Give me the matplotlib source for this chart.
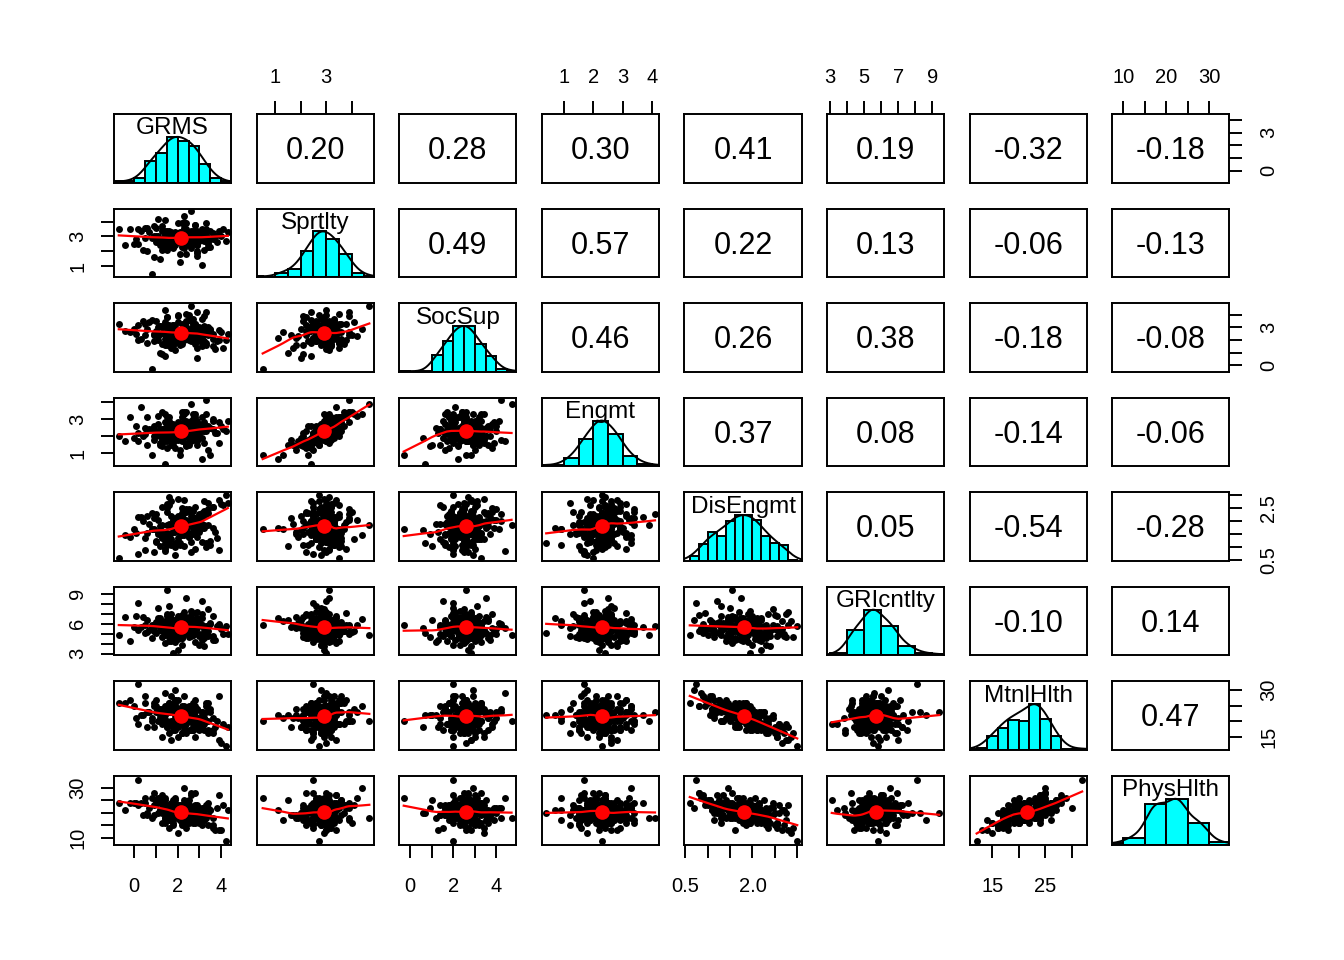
import numpy as np
import matplotlib
matplotlib.use("Agg")
import matplotlib.pyplot as plt

plt.rcParams['font.family'] = ['Liberation Sans', 'DejaVu Sans']

names = ["GRMS", "Sprtlty", "SocSup", "Engmt", "DisEngmt", "GRIcntlty", "MtnlHlth", "PhysHlth"]

# respondent scores (same row order in every list)
grms = [2.7, 1.1, 3.0, 2.4, 1.6, 2.7, 1.3, 1.8, 3.6, 2.0,
        2.2, 1.9, 2.6, 2.4, 1.2, 3.1, 1.5, 3.2, -0.7, 2.1,
        2.4, 2.3, 1.7, 1.5, 3.0, 2.5, 2.6, 4.2, 2.9, 0.9,
        1.8, 2.9, 2.0, 1.9, 1.4, 3.2, 1.6, 2.5, 2.3, 0.8,
        2.5, 2.7, 1.7, 2.4, 2.2, 3.9, 0.2, 2.0, 3.2, 1.5,
        2.4, 1.3, 1.7, 3.1, 2.1, 2.6, 1.4, 2.7, 2.2, 3.3,
        2.3, 1.2, 3.1, 1.9, 2.2, 0.5, 2.0, 3.1, 1.4, 1.9,
        3.4, 1.5, 2.7, 1.6, 2.4, 1.4, 2.8, 2.3, 1.9, 2.6,
        4.0, 2.2, 2.1, 1.3, 2.9, 1.6, 1.8, 2.9, 1.4, 2.4,
        2.2, 2.0, 2.8, 2.0, 1.9, 1.0, 2.3, 2.6, 1.6, 3.0,
        1.2, 3.1, 2.5, 0.4, 2.8, 1.7, 3.6, 2.2, 0.9, 2.6,
        1.9, 3.4, 0.1, 2.3, 1.5, 2.9, 3.8, 1.1, 2.0, 2.7,
        0.6, 3.3, 1.8, 2.4, -0.4, 1.4, 3.0, 2.1, 4.1, 1.6,
        2.5, 0.8, 3.5, 1.3, 2.2, 2.8, 0.3, 1.9, 3.2, 2.6,
        1.0, 2.4, 3.7, 1.7, 0.7, 2.9, 2.0, 3.3, 1.2, 2.3,
        2.7, 1.5, 0.0, 3.1, 2.2, 1.8, 3.9, 2.5, 1.4, 2.0,
        3.4, 0.5, 2.6, 1.6, 2.9, 2.1, 1.0, 3.6, 2.3, 1.3,
        2.8, 1.9, 0.2, 2.4, 3.2, 1.7, 2.5, 4.3, 1.1, 2.7,
        2.0, 3.5, 1.5, 0.9, 2.6, 2.2, 3.0, 1.8, 2.4, -0.2,
        3.1, 1.6, 2.1, 2.9, 0.6, 2.3, 3.4, 1.4, 2.7, 1.9]
sprt = [3.4, 3.0, 2.9, 2.5, 2.6, 3.1, 3.4, 2.3, 2.8, 3.9,
        2.8, 3.2, 2.9, 3.3, 1.5, 3.3, 2.6, 3.2, 3.5, 1.8,
        2.8, 3.2, 2.9, 3.1, 3.0, 3.2, 4.7, 2.7, 2.6, 3.0,
        3.0, 2.4, 2.9, 3.2, 2.8, 2.7, 3.4, 3.3, 3.0, 0.5,
        2.9, 2.9, 3.3, 3.5, 2.3, 3.4, 2.5, 2.7, 3.1, 3.4,
        3.1, 2.1, 2.6, 2.8, 3.0, 2.5, 3.1, 2.9, 3.0, 3.9,
        3.2, 2.8, 3.2, 2.4, 2.5, 2.9, 3.0, 3.1, 2.6, 3.3,
        2.9, 2.1, 3.0, 2.9, 2.7, 4.1, 3.2, 2.7, 3.0, 3.3,
        3.0, 3.3, 2.9, 2.6, 1.7, 3.2, 2.9, 3.4, 2.4, 2.9,
        2.5, 2.8, 3.8, 2.8, 3.2, 3.0, 2.2, 3.1, 3.1, 2.9,
        2.4, 3.5, 3.0, 2.1, 3.8, 2.7, 3.2, 2.9, 1.6, 3.4,
        3.1, 2.5, 2.8, 3.6, 2.2, 3.0, 2.6, 4.2, 2.9, 3.3,
        2.0, 3.1, 2.7, 3.9, 2.4, 3.0, 2.8, 1.3, 3.5, 2.6,
        3.2, 2.9, 2.3, 3.7, 3.0, 2.5, 3.4, 2.8, 2.1, 3.1,
        3.6, 2.7, 3.0, 2.4, 3.3, 1.9, 2.9, 3.5, 2.6, 4.0,
        2.8, 3.2, 2.5, 3.0, 3.9, 2.2, 3.1, 2.7, 3.4, 2.9,
        2.3, 3.6, 2.8, 3.1, 2.0, 3.3, 2.6, 3.0, 4.4, 2.5,
        3.2, 2.7, 3.5, 1.8, 2.9, 3.1, 2.4, 3.3, 2.8, 3.0,
        2.6, 3.4, 2.9, 3.7, 2.2, 3.0, 2.7, 3.2, 2.5, 3.5,
        1.1, 3.1, 2.8, 2.4, 3.6, 3.0, 2.6, 3.3, 2.9, 2.7]
socsup = [2.4, 3.0, 2.4, 2.2, 1.9, 2.9, 3.0, 2.6, 2.5, 3.9,
          2.3, 2.0, 2.6, 2.9, 1.0, 3.7, 2.3, 1.9, 3.3, 1.6,
          3.0, 3.1, 1.7, 2.6, 2.8, 2.0, 4.7, 2.0, 2.1, 2.5,
          2.8, 1.9, 2.5, 2.8, 1.6, 3.1, 3.2, 2.4, 2.7, -0.3,
          2.7, 2.4, 2.9, 4.1, 1.9, 2.8, 2.0, 2.5, 2.7, 3.2,
          3.5, 0.9, 2.3, 2.3, 2.8, 2.0, 3.0, 3.3, 1.7, 4.2,
          2.0, 2.5, 2.9, 1.8, 2.2, 2.4, 4.0, 2.6, 2.1, 3.0,
          2.5, 1.6, 2.6, 2.6, 2.2, 3.4, 2.0, 2.4, 2.7, 3.6,
          2.6, 2.2, 2.6, 3.0, 1.4, 3.0, 2.6, 2.2, 0.7, 2.5,
          2.8, 2.4, 3.3, 2.5, 2.2, 2.7, 2.4, 2.9, 2.1, 2.5,
          3.1, 1.8, 2.6, 3.5, 2.0, 2.9, 1.5, 3.3, 2.4, 2.7,
          1.2, 3.0, 2.5, 2.1, 3.8, 2.8, 1.9, 2.3, 3.4, 2.6,
          2.9, 1.6, 3.2, 2.4, 2.7, 4.4, 2.0, 2.6, 1.4, 3.1,
          2.2, 3.6, 2.8, 1.7, 2.5, 3.3, 2.1, 2.9, 3.9, 1.9,
          2.6, 3.0, 1.3, 2.8, 3.4, 2.3, 2.7, 1.8, 3.1, 2.4,
          3.7, 2.2, 2.9, 1.5, 2.6, 3.2, 2.0, 4.0, 2.5, 1.9,
          2.8, 3.3, 2.3, 2.7, 0.6, 2.4, 3.5, 2.1, 2.9, 3.0,
          1.7, 2.6, 3.2, 2.2, 2.8, 1.4, 3.6, 2.5, 2.0, 3.1,
          2.4, 2.9, 3.8, 1.9, 2.7, 2.3, 3.0, 1.6, 3.4, 2.6,
          2.2, 3.1, 2.5, 4.2, 1.8, 2.8, 2.4, 3.3, 2.0, 2.7]
engmt = [2.6, 2.2, 2.5, 2.0, 1.9, 2.6, 2.4, 1.7, 2.4, 2.8,
         2.3, 1.8, 2.3, 2.7, 1.5, 2.5, 2.0, 2.7, 2.0, 1.2,
         2.2, 2.9, 2.1, 1.7, 2.5, 2.5, 3.9, 2.3, 2.1, 2.0,
         2.4, 1.9, 2.1, 2.6, 2.2, 2.3, 3.1, 2.0, 2.4, 0.9,
         2.2, 2.4, 2.5, 2.9, 1.8, 2.8, 1.7, 2.2, 2.5, 2.6,
         2.5, 1.4, 2.0, 2.3, 2.2, 2.0, 2.3, 2.9, 1.7, 4.1,
         2.5, 2.0, 2.7, 1.3, 2.1, 2.1, 2.3, 2.5, 1.9, 2.4,
         2.5, 2.2, 2.4, 2.1, 1.5, 3.3, 2.6, 2.0, 2.3, 2.6,
         2.6, 1.9, 2.3, 1.8, 1.5, 2.9, 2.3, 2.2, 0.4, 2.1,
         2.0, 2.6, 3.3, 2.2, 2.0, 2.1, 2.3, 2.3, 2.5, 1.9,
         1.6, 3.1, 1.9, 2.0, 3.1, 1.5, 2.9, 2.1, 1.8, 2.4,
         2.5, 1.2, 2.6, 2.8, 1.3, 2.9, 2.2, 3.2, 1.8, 3.0,
         1.5, 3.3, 1.8, 3.4, 1.7, 1.7, 2.6, 0.9, 2.4, 2.6,
         2.5, 2.4, 0.9, 3.4, 2.2, 2.2, 3.7, 1.8, 1.6, 2.9,
         2.3, 2.2, 2.2, 2.6, 2.4, 1.7, 2.2, 2.3, 2.4, 3.4,
         2.0, 3.1, 1.9, 1.9, 3.4, 1.5, 1.6, 2.6, 2.8, 2.1,
         2.6, 2.5, 2.4, 2.4, 1.9, 2.1, 2.0, 3.0, 3.3, 2.2,
         2.4, 2.4, 2.2, 1.4, 2.8, 2.4, 1.5, 2.9, 2.7, 1.8,
         2.2, 2.5, 2.7, 2.6, 1.7, 3.1, 2.0, 2.7, 1.6, 3.1,
         0.7, 1.9, 2.7, 1.8, 3.1, 2.0, 2.5, 2.5, 3.3, 2.1]
disengmt = [1.75, 1.60, 2.20, 1.95, 1.30, 2.40, 1.35, 1.60, 2.55, 2.05,
            2.30, 1.15, 1.95, 1.95, 1.05, 2.15, 1.85, 2.35, 0.60, 1.50,
            1.80, 1.75, 2.20, 1.55, 2.10, 1.40, 1.85, 3.00, 1.70, 0.80,
            1.95, 2.00, 1.25, 2.10, 1.45, 2.75, 1.45, 1.55, 1.85, 1.70,
            1.85, 2.05, 1.10, 1.70, 1.90, 2.80, 0.75, 2.05, 1.85, 1.30,
            1.75, 1.50, 1.55, 2.30, 1.70, 2.20, 0.95, 2.00, 1.95, 2.25,
            1.50, 1.65, 2.15, 1.85, 1.80, 0.90, 2.05, 1.90, 1.30, 1.95,
            2.45, 1.10, 2.15, 1.85, 1.55, 1.30, 2.55, 1.50, 1.70, 1.80,
            2.65, 1.45, 1.65, 1.40, 1.90, 1.80, 2.05, 2.10, 1.15, 1.95,
            2.20, 1.75, 1.95, 1.35, 1.60, 1.20, 2.30, 1.50, 1.90, 2.25,
            1.65, 2.25, 1.40, 2.00, 0.95, 1.85, 2.55, 1.50, 2.10, 1.20,
            1.90, 2.70, 1.55, 1.05, 2.35, 1.75, 1.35, 2.05, 2.85, 1.60,
            2.20, 1.15, 1.80, 2.45, 1.45, 0.85, 2.00, 1.70, 2.60, 1.30,
            1.95, 2.30, 1.10, 1.85, 2.50, 1.55, 2.15, 0.70, 1.75, 2.40,
            1.25, 2.05, 1.60, 2.75, 1.90, 1.40, 2.20, 1.00, 1.80, 2.35,
            1.50, 2.65, 1.70, 1.20, 2.10, 1.85, 0.90, 2.45, 1.55, 2.00,
            2.30, 1.35, 1.95, 2.90, 1.65, 1.10, 2.25, 1.75, 1.45, 2.55,
            1.80, 1.00, 2.15, 1.60, 2.40, 1.30, 1.95, 2.70, 1.50, 1.85,
            2.05, 1.25, 2.50, 1.70, 0.80, 2.20, 1.60, 1.90, 2.35, 1.40,
            1.75, 2.60, 1.15, 2.00, 1.55, 2.80, 1.85, 1.30, 2.10, 1.65]
gri = [6.2, 6.6, 4.8, 6.5, 5.7, 5.3, 6.1, 4.6, 6.8, 5.2,
       3.9, 5.4, 5.8, 6.0, 6.4, 4.4, 6.3, 5.5, 4.9, 5.6,
       5.6, 6.3, 4.3, 9.4, 6.2, 5.7, 4.9, 5.8, 7.2, 5.3,
       3.1, 5.8, 5.1, 6.1, 6.3, 4.7, 6.1, 5.3, 5.0, 5.9,
       6.3, 4.9, 5.5, 6.1, 4.9, 5.9, 8.1, 6.2, 4.6, 6.8,
       8.6, 4.7, 6.5, 5.9, 5.1, 6.6, 5.4, 5.2, 5.2, 5.8,
       6.0, 6.1, 5.9, 5.8, 4.6, 5.1, 5.0, 7.0, 5.4, 6.0,
       7.5, 5.8, 6.4, 4.9, 6.6, 5.3, 5.4, 5.7, 4.5, 6.5,
       5.5, 5.1, 5.3, 5.8, 5.9, 4.3, 5.2, 6.6, 5.1, 5.5,
       4.6, 6.0, 5.9, 5.5, 5.5, 6.1, 5.6, 6.4, 6.3, 5.0,
       5.4, 5.0, 4.7, 6.7, 7.1, 5.0, 4.8, 6.1, 5.7, 6.0,
       4.2, 4.8, 6.8, 5.5, 7.0, 6.1, 5.8, 5.9, 6.3, 5.3,
       6.4, 5.1, 4.5, 5.9, 6.7, 5.6, 3.9, 6.3, 5.0, 7.8,
       5.5, 4.6, 6.0, 5.3, 6.9, 4.2, 5.7, 6.4, 5.1, 4.8,
       6.2, 5.8, 4.4, 7.0, 5.4, 6.1, 3.4, 5.6, 6.6, 5.2,
       4.9, 6.3, 5.7, 8.3, 5.0, 4.6, 6.0, 5.5, 4.1, 6.8,
       5.3, 5.9, 7.3, 4.7, 5.6, 6.2, 5.1, 4.4, 6.5, 5.8,
       6.0, 4.9, 5.4, 6.7, 3.8, 5.7, 6.3, 5.0, 7.6, 5.2,
       4.5, 6.1, 5.6, 5.3, 6.9, 4.8, 5.9, 6.4, 5.1, 4.3,
       6.6, 5.5, 4.7, 6.0, 5.2, 7.2, 5.8, 4.9, 6.2, 5.4]
mtnl = [22, 23, 18, 19, 26, 17, 24, 23, 16, 20,
        16, 27, 23, 21, 22, 23, 20, 17, 26, 24,
        21, 21, 23, 23, 19, 25, 20, 12, 18, 25,
        19, 21, 27, 17, 24, 19, 23, 24, 22, 20,
        20, 19, 28, 23, 19, 14, 32, 18, 21, 25,
        22, 22, 24, 18, 21, 17, 25, 20, 19, 23,
        24, 21, 20, 26, 22, 28, 23, 21, 20, 25,
        17, 24, 18, 25, 23, 24, 15, 23, 21, 21,
        13, 24, 22, 23, 21, 26, 18, 19, 22, 24,
        22, 22, 20, 20, 24, 25, 17, 23, 25, 18,
        23, 19, 24, 22, 27, 20, 17, 25, 18, 24,
        22, 16, 21, 28, 19, 24, 20, 23, 15, 26,
        18, 25, 20, 22, 26, 29, 17, 21, 19, 23,
        24, 21, 23, 19, 16, 25, 22, 30, 20, 17,
        27, 22, 18, 14, 23, 21, 19, 26, 24, 20,
        22, 18, 25, 23, 20, 17, 28, 21, 24, 19,
        20, 26, 22, 16, 18, 24, 23, 21, 25, 15,
        23, 27, 19, 22, 21, 25, 17, 18, 20, 24,
        21, 24, 18, 26, 25, 22, 19, 23, 16, 27,
        22, 19, 21, 24, 23, 18, 26, 20, 17, 25]
phys = [22, 20, 17, 18, 23, 16, 27, 21, 15, 22,
        20, 23, 18, 19, 25, 18, 22, 17, 24, 19,
        19, 24, 21, 20, 16, 22, 18, 9, 20, 28,
        25, 17, 21, 19, 22, 20, 21, 23, 18, 26,
        23, 18, 24, 22, 17, 13, 33, 20, 19, 21,
        17, 22, 20, 15, 23, 21, 25, 19, 21, 18,
        21, 21, 19, 23, 20, 26, 20, 22, 18, 21,
        19, 23, 17, 20, 22, 23, 16, 18, 20, 21,
        13, 22, 20, 24, 19, 17, 21, 23, 20, 16,
        18, 20, 22, 19, 23, 24, 19, 20, 21, 17,
        21, 17, 25, 19, 23, 22, 14, 20, 19, 27,
        18, 15, 24, 25, 21, 19, 22, 26, 12, 20,
        20, 22, 16, 24, 21, 26, 19, 17, 23, 20,
        23, 18, 21, 20, 15, 28, 24, 22, 17, 19,
        25, 20, 13, 17, 22, 18, 21, 23, 26, 16,
        19, 21, 24, 20, 17, 15, 27, 22, 18, 23,
        22, 24, 19, 14, 20, 21, 25, 18, 30, 16,
        20, 25, 23, 18, 22, 19, 16, 21, 24, 17,
        18, 21, 20, 23, 28, 16, 22, 19, 14, 24,
        21, 20, 17, 22, 19, 23, 24, 16, 18, 26]

# correlations printed above the diagonal, row by row
cor_upper = [[0.20, 0.28, 0.30, 0.41, 0.19, -0.32, -0.18],
             [0.49, 0.57, 0.22, 0.13, -0.06, -0.13],
             [0.46, 0.26, 0.38, -0.18, -0.08],
             [0.37, 0.08, -0.14, -0.06],
             [0.05, -0.54, -0.28],
             [-0.10, 0.14],
             [0.47]]

# histogram counts on the diagonal (first edge, bin width, counts)
grms_hist = [1, 1, 4, 19, 26, 40, 36, 32, 16, 4, 1]
sprt_hist = [1, 0, 4, 7, 23, 40, 33, 20, 4, 1]
socsup_hist = [1, 0, 1, 15, 27, 40, 40, 24, 14, 2, 1]
engmt_hist = [1, 1, 7, 24, 40, 28, 9, 2, 1]
disengmt_hist = [4, 15, 25, 22, 35, 40, 40, 36, 22, 16, 14, 1]
gri_hist = [2, 22, 40, 26, 8, 2, 1]
mtnl_hist = [1, 2, 12, 19, 26, 25, 40, 27, 12, 1, 1, 1]
phys_hist = [1, 6, 35, 40, 19, 2]
hist_start = [-1.0, 0.0, -0.5, 0.0, 0.6, 3.0, 10.0, 5.0]
hist_width = [0.5, 0.5, 0.5, 0.5, 0.2, 1.0, 2.0, 5.0]

# axis ranges and tick marks
lims = [(-0.92, 4.46), (0.26, 4.88), (-0.51, 4.93), (0.25, 4.24),
        (0.48, 3.10), (2.82, 9.70), (10.66, 32.9), (7.44, 34.65)]
ticks = [[0, 1, 2, 3, 4], [1, 2, 3, 4], [0, 1, 2, 3, 4], [1, 2, 3, 4],
         [0.5, 1.0, 1.5, 2.0, 2.5, 3.0], [3, 4, 5, 6, 7, 8, 9],
         [15, 20, 25, 30], [10, 15, 20, 25, 30]]
xlab_shown = [[0, 2, 4], [1, 3], [0, 2, 4], [1, 2, 3, 4],
              [0.5, 2.0], [3, 5, 7, 9], [15, 25], [10, 20, 30]]
ylab_shown = [[0, 3], [1, 3], [0, 3], [1, 3],
              [0.5, 2.5], [3, 6, 9], [15, 30], [10, 30]]

cols = [grms, sprt, socsup, engmt, disengmt, gri, mtnl, phys]
hists = [grms_hist, sprt_hist, socsup_hist, engmt_hist, disengmt_hist,
         gri_hist, mtnl_hist, phys_hist]


def lowess(x, y, f=2/3, iters=3):
    order = np.argsort(x, kind="mergesort")
    x = np.asarray(x, float)[order]
    y = np.asarray(y, float)[order]
    n = len(x)
    r = int(np.ceil(f * n))
    robust = np.ones(n)
    fit = np.zeros(n)
    for it in range(iters + 1):
        for i in range(n):
            d = np.abs(x - x[i])
            h = max(np.sort(d)[r - 1], 1e-9)
            w = np.clip(d / h, 0, 1)
            w = (1 - w ** 3) ** 3 * robust
            sw = w.sum()
            xm = (w * x).sum() / sw
            ym = (w * y).sum() / sw
            sxx = (w * (x - xm) ** 2).sum()
            b = (w * (x - xm) * (y - ym)).sum() / sxx if sxx > 1e-12 else 0.0
            fit[i] = ym + b * (x[i] - xm)
        res = y - fit
        s = np.median(np.abs(res))
        if s == 0:
            break
        u = np.clip(res / (6 * s), -1, 1)
        robust = (1 - u ** 2) ** 2
    return x, fit


def hist_density(edges, counts, grid):
    mids = (edges[:-1] + edges[1:]) / 2
    c = np.asarray(counts, float)
    n = c.sum()
    mu = (c * mids).sum() / n
    sd = np.sqrt((c * (mids - mu) ** 2).sum() / (n - 1))
    bw = 1.2 * 1.06 * sd * n ** -0.2
    dens = (c[:, None] * np.exp(-0.5 * ((grid[None, :] - mids[:, None]) / bw) ** 2)).sum(0)
    return dens / dens.max()


def lab(k, v):
    # DisEngmt uses one decimal, the rest are whole numbers
    return "%.1f" % v if k == 4 else str(int(v))


n = len(names)
fig = plt.figure(figsize=(13.44, 9.6), dpi=100)
gs = fig.add_gridspec(n, n, left=114/1344, right=1229.5/1344,
                      top=1-114/960, bottom=1-844.5/960,
                      wspace=0.2157, hspace=0.379)

for i in range(n):
    for j in range(n):
        ax = fig.add_subplot(gs[i, j])
        ax.set_xlim(lims[j])
        ax.set_ylim((0, 1.5) if i == j else lims[i])
        ax.set_xticks([])
        ax.set_yticks([])
        for sp in ax.spines.values():
            sp.set_linewidth(1.4)
        ax.tick_params(length=9.3, width=1.4, labelsize=14.5, direction='out')

        if i == j:
            cnt = np.array(hists[i], float)
            edges = hist_start[i] + hist_width[i] * np.arange(len(cnt) + 1)
            ax.bar(edges[:-1], cnt / cnt.max(), width=hist_width[i], align='edge',
                   color='#00FFFF', edgecolor='black', linewidth=1.4)
            grid = np.linspace(lims[i][0], lims[i][1], 300)
            ax.plot(grid, hist_density(edges, cnt, grid), color='black', lw=1.4)
            ax.text(0.5, 0.79, names[i], transform=ax.transAxes, ha='center',
                    va='center', fontsize=17.5, zorder=5)
        elif i < j:
            r = cor_upper[i][j - i - 1]
            ax.text(0.5, 0.46, "%.2f" % r, transform=ax.transAxes, ha='center',
                    va='center', fontsize=22)
        else:
            x = np.array(cols[j], float)
            y = np.array(cols[i], float)
            ax.plot(x, y, 'o', ms=5.0, mew=0, color='black')
            sx, sy = lowess(x, y)
            ax.plot(sx, sy, color='red', lw=1.6)
            ax.plot(x.mean(), y.mean(), 'o', ms=10.5, mew=0, color='red')

        # outer axes, alternating sides like R's pairs()
        if i == 0 and j % 2 == 1:
            ax.xaxis.set_ticks_position('top')
            ax.set_xticks(ticks[j], [lab(j, v) if v in xlab_shown[j] else '' for v in ticks[j]])
            ax.tick_params(axis='x', pad=10)
        if i == n - 1 and j % 2 == 0:
            ax.xaxis.set_ticks_position('bottom')
            ax.set_xticks(ticks[j], [lab(j, v) if v in xlab_shown[j] else '' for v in ticks[j]])
            ax.tick_params(axis='x', pad=14)
        if j == 0 and i % 2 == 1:
            ax.yaxis.set_ticks_position('left')
            ax.set_yticks(ticks[i], [lab(i, v) if v in ylab_shown[i] else '' for v in ticks[i]])
            ax.tick_params(axis='y', pad=10, labelrotation=90)
            for t in ax.get_yticklabels():
                t.set_va('center')
        if j == n - 1 and i % 2 == 0:
            ax.yaxis.set_ticks_position('right')
            ax.set_yticks(ticks[i], [lab(i, v) if v in ylab_shown[i] else '' for v in ticks[i]])
            ax.tick_params(axis='y', pad=12, labelrotation=90)
            for t in ax.get_yticklabels():
                t.set_va('center')

fig.savefig('out.png', dpi=100, facecolor='white')
